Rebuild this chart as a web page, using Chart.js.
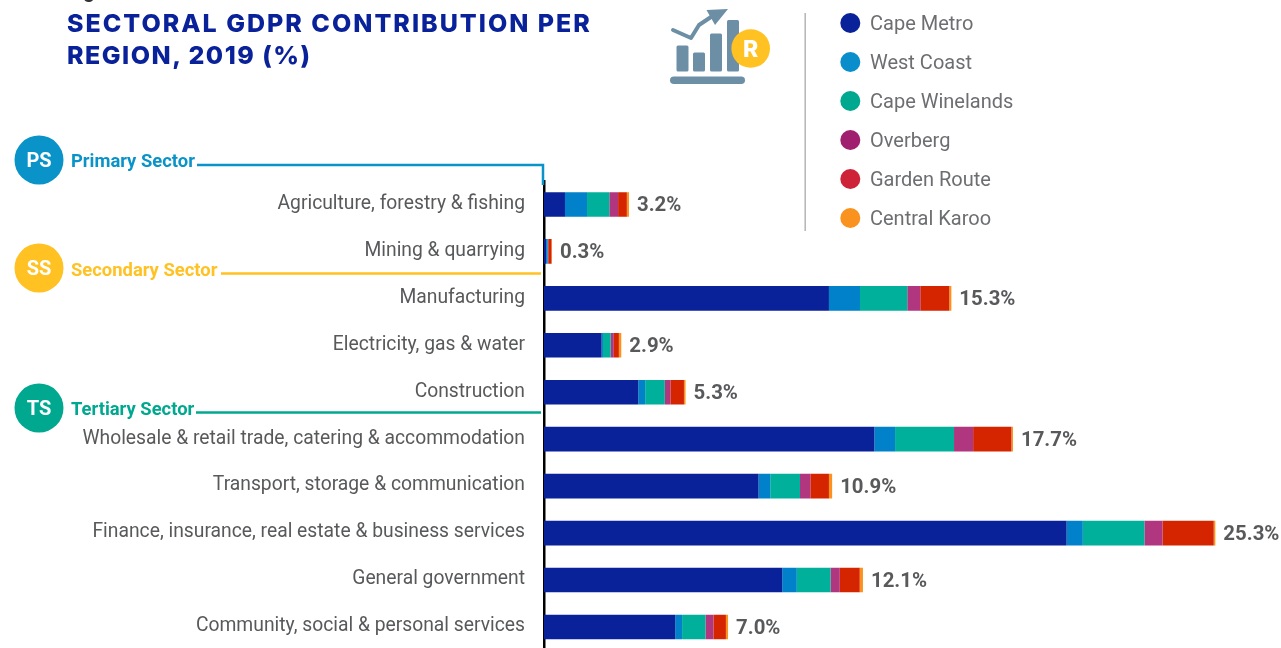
<!DOCTYPE html>
<html><head><meta charset="utf-8">
<style>
html,body{margin:0;padding:0;background:#fff;overflow:hidden;width:1281px;height:648px}
#wrap{position:relative;width:1281px;height:648px;overflow:hidden}
#box{position:absolute;left:0;top:0;width:1281px;height:681px}
.t{position:absolute;white-space:nowrap}
#title{left:67px;top:7px;font:800 25px/32px Inter,sans-serif;letter-spacing:2px;color:#0A2299}
#title span{letter-spacing:1.5px}
#fig{left:67px;top:-21px;font:700 20px/24px Roboto,sans-serif;color:#333}
#icon{position:absolute;left:0;top:0}
</style>
<script src="https://cdn.jsdelivr.net/npm/chart.js@4"></script>
</head><body>
<div id="wrap">
<div id="box"><canvas id="c"></canvas></div>
<div class="t" id="fig">Figure</div>
<div class="t" id="title">SECTORAL GDPR CONTRIBUTION PER<br><span>REGION, 2019 (%)</span></div>
<svg id="icon" width="1281" height="120" viewBox="0 0 1281 120">
<g fill="#6C8FA6">
<rect x="676.5" y="45.5" width="12" height="26" rx="1.5"/>
<rect x="693" y="52.5" width="12" height="19" rx="1.5"/>
<rect x="710" y="33.5" width="12" height="38" rx="1.5"/>
<rect x="727" y="20" width="12" height="51.5" rx="1.5"/>
<rect x="670" y="76.5" width="75" height="7.5" rx="3.75"/>
<path d="M706.5 10 L728 9 L715 25 Z"/>
</g>
<path d="M673 30 L691 38 L699 25 L714 15" fill="none" stroke="#6C8FA6" stroke-width="4" stroke-linecap="round" stroke-linejoin="round"/>
<circle cx="750.7" cy="48.5" r="19.3" fill="#FFC222"/>
<text x="750.7" y="56.5" text-anchor="middle" font-family="Inter" font-weight="800" font-size="23" fill="#fff">R</text>
</svg>
</div>
<script>
const categories = ["Agriculture, forestry & fishing","Mining & quarrying","Manufacturing","Electricity, gas & water","Construction","Wholesale & retail trade, catering & accommodation","Transport, storage & communication","Finance, insurance, real estate & business services","General government","Community, social & personal services"];
const totals = [3.2,0.3,15.3,2.9,5.3,17.7,10.9,25.3,12.1,7.0];
const capeMetro    = [0.79,0.08,10.73,2.17,3.55,12.44,8.08,19.68,8.97,4.94];
const westCoast    = [0.83,0.06,1.17,0.05,0.26,0.78,0.44,0.61,0.55,0.26];
const capeWinelands= [0.84,0.01,1.78,0.29,0.74,2.22,1.12,2.32,1.27,0.88];
const overberg     = [0.33,0.01,0.49,0.12,0.21,0.72,0.39,0.68,0.35,0.30];
const gardenRoute  = [0.33,0.12,1.09,0.19,0.51,1.44,0.70,1.93,0.75,0.47];
const centralKaroo = [0.08,0.02,0.08,0.09,0.06,0.06,0.12,0.06,0.12,0.08];
const regions = ["Cape Metro","West Coast","Cape Winelands","Overberg","Garden Route","Central Karoo"];
const barColors = ["#0A2299","#0081C9","#00B09B","#B0377F","#D52500","#F9921E"];
const legendColors = ["#0A2299","#0A8ECB","#00A88F","#A01F6F","#CE2238","#F9921E"];
const series = [capeMetro,westCoast,capeWinelands,overberg,gardenRoute,centralKaroo];
const sectors = [
 {code:"PS",name:"Primary Sector",color:"#0A93C9",cy:160,ty:162,line:[[197,165],[543,165],[543,185]]},
 {code:"SS",name:"Secondary Sector",color:"#FFC222",cy:268,ty:271,line:[[221,273.5],[541,273.5]]},
 {code:"TS",name:"Tertiary Sector",color:"#00A88F",cy:408,ty:410.5,line:[[196,412.5],[541,412.5]]}
];
const overlay = {
 id:'overlay',
 afterDatasetsDraw(chart){
  const {ctx,scales:{x,y}} = chart;
  ctx.save();
  ctx.font = '700 20.4px Roboto'; ctx.fillStyle='#58595B'; ctx.textAlign='left'; ctx.textBaseline='middle';
  totals.forEach((t,i)=>{
    const end = series.reduce((s,a)=>s+a[i],0);
    ctx.fillText(t.toFixed(1)+'%', x.getPixelForValue(end)+8, y.getPixelForValue(i)+1.5);
  });
  sectors.forEach(s=>{
    ctx.strokeStyle=s.color; ctx.lineWidth=2.5; ctx.beginPath();
    s.line.forEach((p,i)=> i?ctx.lineTo(p[0],p[1]):ctx.moveTo(p[0],p[1])); ctx.stroke();
    ctx.fillStyle=s.color; ctx.beginPath(); ctx.arc(39,s.cy,24.5,0,Math.PI*2); ctx.fill();
    ctx.fillStyle='#fff'; ctx.font='700 20px Roboto'; ctx.textAlign='center'; ctx.fillText(s.code,39,s.cy+1.5);
    ctx.fillStyle=s.color; ctx.font='700 18.4px Roboto'; ctx.textAlign='left'; ctx.fillText(s.name,71,s.ty);
  });
  ctx.font='400 20px Roboto'; ctx.textAlign='left';
  chart.data.datasets.forEach((d,i)=>{
    const yy=23+39*i;
    ctx.fillStyle=legendColors[i]; ctx.beginPath(); ctx.arc(850.3,yy,10,0,Math.PI*2); ctx.fill();
    ctx.fillStyle='#6D6E71'; ctx.fillText(d.label,870,yy+1.5);
  });
  ctx.strokeStyle='#B5B5B5'; ctx.lineWidth=1.5; ctx.beginPath(); ctx.moveTo(805.2,13); ctx.lineTo(805.2,231); ctx.stroke();
  ctx.restore();
 }
};
new Chart(document.getElementById('c'),{
 type:'bar',
 data:{labels:categories,datasets:series.map((v,i)=>({label:regions[i],data:v,backgroundColor:barColors[i],borderWidth:0,barPercentage:0.525,categoryPercentage:1}))},
 options:{
  indexAxis:'y',responsive:true,maintainAspectRatio:false,animation:false,
  layout:{padding:{left:0,right:20,top:181,bottom:0.5}},
  plugins:{legend:{display:false},tooltip:{enabled:false},title:{display:false}},
  scales:{
   x:{stacked:true,min:0,max:27,display:false},
   y:{stacked:true,
      afterFit(s){s.width=544;},
      grid:{display:false,drawTicks:false},
      border:{display:true,color:'#000',width:2.5},
      ticks:{color:'#58595B',font:{family:'Roboto',size:19.3},padding:19,labelOffset:-0.5,autoSkip:false}}
  }
 },
 plugins:[overlay]
});
</script>
</body></html>
